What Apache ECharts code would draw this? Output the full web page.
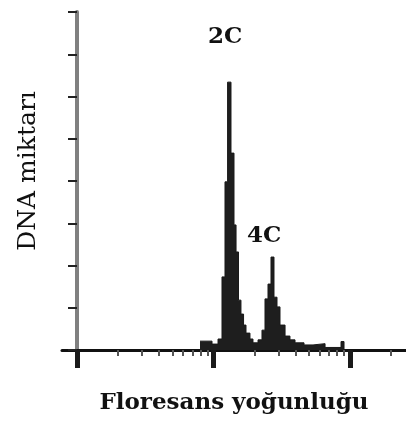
<!DOCTYPE html>
<html>
<head>
<meta charset="utf-8">
<script src="https://cdn.jsdelivr.net/npm/echarts@6/dist/echarts.min.js"></script>
<style>
  html, body { margin: 0; padding: 0; background: #fff; }
  #chart { width: 406px; height: 428px; }
</style>
</head>
<body>
<div id="chart"></div>
<script>
// histogram bins: left edge in log10 decades of fluorescence, height in y-axis units
const binStart = [0.901, 0.989, 1.033, 1.062, 1.084, 1.103, 1.128, 1.150, 1.165, 1.183,
  1.201, 1.220, 1.238, 1.267, 1.289, 1.326, 1.355, 1.377, 1.399, 1.421,
  1.443, 1.465, 1.487, 1.524, 1.560, 1.597, 1.663, 1.729, 1.817, 1.934, 1.956]
const counts = [0.21, 0.14, 0.26, 1.73, 3.98, 6.34, 4.66, 2.96, 2.32, 1.18,
  0.85, 0.59, 0.40, 0.26, 0.17, 0.24, 0.47, 1.21, 1.56, 2.20,
  1.25, 1.02, 0.59, 0.33, 0.24, 0.17, 0.12, 0.15, 0.06, 0.20, 0]

const majorTicks = [0, 1, 2]
const minorTicks = [0, 1, 2].flatMap((d) =>
  [2, 3, 4, 5, 6, 7, 8, 9].map((k) => d + Math.log10(k))
).filter((v) => v < 2.41)

const serif = '"DejaVu Serif", "Liberation Serif", serif'

const chart = echarts.init(document.getElementById('chart'), null, { renderer: 'canvas' })

const xBase = {
  type: 'value',
  min: -0.11,
  max: 2.41,
  position: 'bottom',
  splitLine: { show: false },
  axisLabel: { show: false },
}

chart.setOption({
  animation: false,
  grid: { left: 62, right: 0, top: 12, bottom: 78, outerBoundsMode: 'none' },
  xAxis: [
    {
      ...xBase,
      name: 'Floresans yoğunluğu',
      nameLocation: 'middle',
      nameGap: 42,
      nameTextStyle: { fontFamily: serif, fontWeight: 'bold', fontSize: 23, color: '#111' },
      axisLine: { lineStyle: { color: '#111', width: 3 } },
      axisTick: { customValues: majorTicks, length: 18, lineStyle: { color: '#1a1a1a', width: 5 } },
    },
    {
      ...xBase,
      axisLine: { show: false },
      axisTick: { customValues: minorTicks, length: 6, lineStyle: { color: '#555', width: 2 } },
    },
  ],
  yAxis: {
    type: 'value',
    min: 0,
    max: 8,
    interval: 1,
    name: 'DNA miktarı',
    nameLocation: 'middle',
    nameRotate: 90,
    nameGap: 21,
    nameTextStyle: { fontFamily: serif, fontSize: 25, color: '#111', padding: [0, 0, 0, 20] },
    axisLine: { onZero: true, lineStyle: { color: '#808080', width: 4 } },
    axisTick: { length: 9, lineStyle: { color: '#222', width: 2 } },
    axisLabel: { show: false },
    splitLine: { show: false },
  },
  series: [
    {
      type: 'line',
      step: 'end',
      symbol: 'none',
      data: binStart.map((x, i) => [x, counts[i]]),
      lineStyle: { color: '#1a1a1a', width: 1 },
      areaStyle: { color: '#1e1e1e', opacity: 1 },
      z: 1,
    },
  ],
  graphic: [
    { type: 'text', left: 208, top: 26, style: { text: '2C', font: 'bold 23px ' + serif, fill: '#111' } },
    { type: 'text', left: 247, top: 225, style: { text: '4C', font: 'bold 23px ' + serif, fill: '#111' } },
  ],
})
</script>
</body>
</html>
